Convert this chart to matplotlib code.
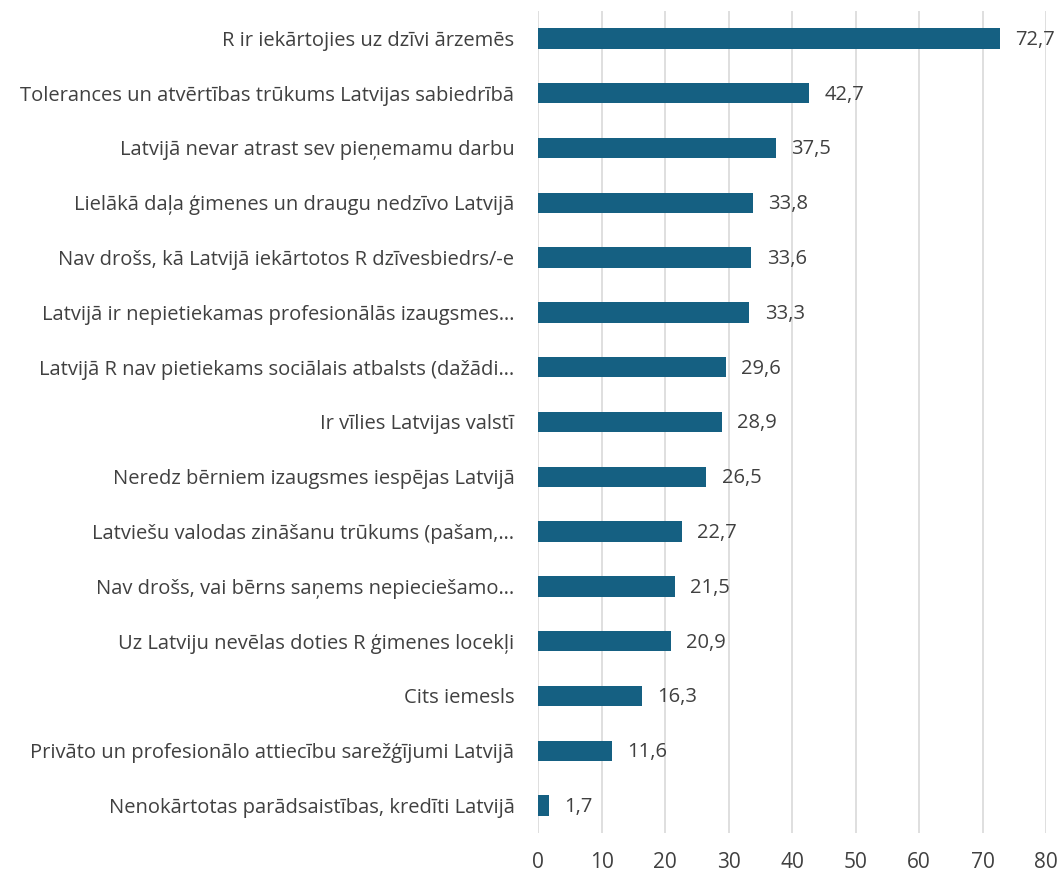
import matplotlib
matplotlib.use("Agg")
import matplotlib.pyplot as plt

# Reasons for not returning to Latvia (%)
labels = [
    "R ir iekārtojies uz dzīvi ārzemēs",
    "Tolerances un atvērtības trūkums Latvijas sabiedrībā",
    "Latvijā nevar atrast sev pieņemamu darbu",
    "Lielākā daļa ģimenes un draugu nedzīvo Latvijā",
    "Nav drošs, kā Latvijā iekārtotos R dzīvesbiedrs/-e",
    "Latvijā ir nepietiekamas profesionālās izaugsmes…",
    "Latvijā R nav pietiekams sociālais atbalsts (dažādi…",
    "Ir vīlies Latvijas valstī",
    "Neredz bērniem izaugsmes iespējas Latvijā",
    "Latviešu valodas zināšanu trūkums (pašam,…",
    "Nav drošs, vai bērns saņems nepieciešamo…",
    "Uz Latviju nevēlas doties R ģimenes locekļi",
    "Cits iemesls",
    "Privāto un profesionālo attiecību sarežģījumi Latvijā",
    "Nenokārtotas parādsaistības, kredīti Latvijā",
]
values = [72.7, 42.7, 37.5, 33.8, 33.6, 33.3, 29.6, 28.9, 26.5, 22.7, 21.5, 20.9, 16.3, 11.6, 1.7]
xticks = [0, 10, 20, 30, 40, 50, 60, 70, 80]

plt.rcParams['font.family'] = ['Open Sans', 'DejaVu Sans']
text_color = '#404040'
bar_color = '#156082'

fig = plt.figure(figsize=(10.61, 8.74), dpi=100)
ax = fig.add_axes([538 / 1061, 1 - 833 / 874, (1046 - 538) / 1061, 822 / 874])

ypos = list(range(len(labels)))
ax.barh(ypos, values, height=0.37, color=bar_color, zorder=3)

for y, v in zip(ypos, values):
    ax.annotate(f"{v:.1f}".replace(".", ","), (v, y), xytext=(11, -1),
                textcoords='offset points', va='center', ha='left',
                fontsize=14.5, color=text_color)

ax.set_xlim(0, 80)
ax.set_ylim(len(labels) - 0.5, -0.5)
ax.set_yticks(ypos)
ax.set_yticklabels(labels, fontsize=14.5, color=text_color)
ax.set_xticks(xticks)
ax.set_xticklabels([str(t) for t in xticks], fontsize=15, color=text_color)

ax.tick_params(axis='y', length=0, pad=17)
ax.tick_params(axis='x', length=0, pad=14)
ax.grid(axis='x', color='#d9d9d9', linewidth=1.2, zorder=0)
for s in ax.spines.values():
    s.set_visible(False)

plt.savefig("out.png", dpi=100)
